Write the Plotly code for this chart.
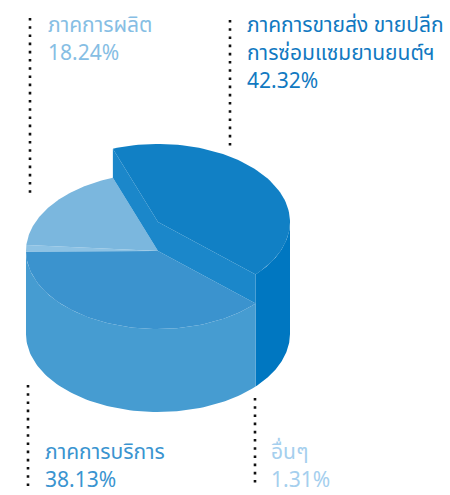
import math
import plotly.graph_objects as go

# ---- data ----
labels = ["ภาคการขายส่ง ขายปลีก<br>การซ่อมแซมยานยนต์ฯ", "ภาคการบริการ", "อื่นๆ", "ภาคการผลิต"]
values = [42.32, 38.13, 1.31, 18.24]
value_text = ["42.32%", "38.13%", "1.31%", "18.24%"]

# ---- style ----
top_colors = ["#1180c5", "#3b93ce", "#8dc2e4", "#7bb7de"]
wall_colors = ["#0077c1", "#469cd1", "#8dc2e4", "#7bb7de"]
cut_color = "#1b87ca"
label_colors = ["#1179c1", "#3a94d0", "#a5cfee", "#86bee4"]
lift = [29, 0, 0, 0]          # raised slice (pixels)
start_angle = 110             # degrees, slices run clockwise
CX, RX, RY = 158, 132, 78
CY_TOP, CY_BOT = 251, 334

W, H = 450, 495
fig = go.Figure()


def pt(t, cy):
    r = math.radians(t)
    return CX + RX * math.cos(r), cy - RY * math.sin(r)


def arc(a, b, cy, n=80):
    pts = []
    for i in range(n + 1):
        t = a + (b - a) * i / n
        pts.append(pt(t, cy))
    return pts


def poly(points, color):
    xs = [p[0] for p in points] + [points[0][0]]
    ys = [p[1] for p in points] + [points[0][1]]
    fig.add_trace(go.Scatter(x=xs, y=ys, mode="lines", fill="toself",
                             fillcolor=color, line=dict(width=0, color=color),
                             hoverinfo="skip", showlegend=False))


total = sum(values)
bounds = []
a = start_angle
for v in values:
    b = a - v / total * 360.0
    bounds.append((a, b))
    a = b

# walls (front only: angles where sin < 0)
for i, (a, b) in enumerate(bounds):
    hi, lo = a, b
    for k in (-1, 0, 1):
        s_lo, s_hi = -180 + 360 * k, 0 + 360 * k
        lo2, hi2 = max(lo, s_lo), min(hi, s_hi)
        if hi2 - lo2 > 0.01:
            cy_t = CY_TOP - lift[i]
            pts = arc(lo2, hi2, cy_t) + arc(hi2, lo2, CY_BOT)
            poly(pts, wall_colors[i])

# tops of non-lifted slices
for i, (a, b) in enumerate(bounds):
    if lift[i] == 0:
        pts = [(CX, CY_TOP)] + arc(a, b, CY_TOP)
        poly(pts, top_colors[i])

# cut faces + tops of lifted slices
for i, (a, b) in enumerate(bounds):
    if lift[i] > 0:
        cy_t = CY_TOP - lift[i]
        for ang in (a, b):
            p_top = pt(ang, cy_t)
            p_low = pt(ang, CY_TOP)
            poly([(CX, cy_t), p_top, p_low, (CX, CY_TOP)], cut_color)
        pts = [(CX, cy_t)] + arc(a, b, cy_t)
        poly(pts, top_colors[i])

# ---- labels ----
font_family = "Noto Sans Thai, Noto Sans, Sarabun, sans-serif"
LINE = 28
label_pos = [(245, 25), (43, 452), (269, 452), (46, 25)]
for i, (x, y0) in enumerate(label_pos):
    lines = labels[i].split("<br>") + [value_text[i]]
    for j, line in enumerate(lines):
        fig.add_annotation(x=x, y=y0 + j * LINE, xref="x", yref="y", text=line,
                           showarrow=False, xanchor="left", yanchor="middle",
                           font=dict(family=font_family, size=21, color=label_colors[i]))

# dotted leader lines
leaders = [(30, 18, 197), (230, 20, 146), (28, 385, 487), (255, 398, 486)]
for x, y0, y1 in leaders:
    fig.add_shape(type="line", x0=x, x1=x, y0=y0, y1=y1, xref="x", yref="y",
                  line=dict(color="#111111", width=2.6, dash="2.6px,5.6px"))

fig.update_layout(
    width=W, height=H, margin=dict(l=0, r=0, t=0, b=0),
    paper_bgcolor="white", plot_bgcolor="white",
    xaxis=dict(range=[0, W], visible=False, fixedrange=True),
    yaxis=dict(range=[H, 0], visible=False, fixedrange=True),
    showlegend=False,
)
fig.write_html("out.html", config={"displayModeBar": False},
               post_script="document.body.style.margin='0';document.body.style.overflow='hidden';")
